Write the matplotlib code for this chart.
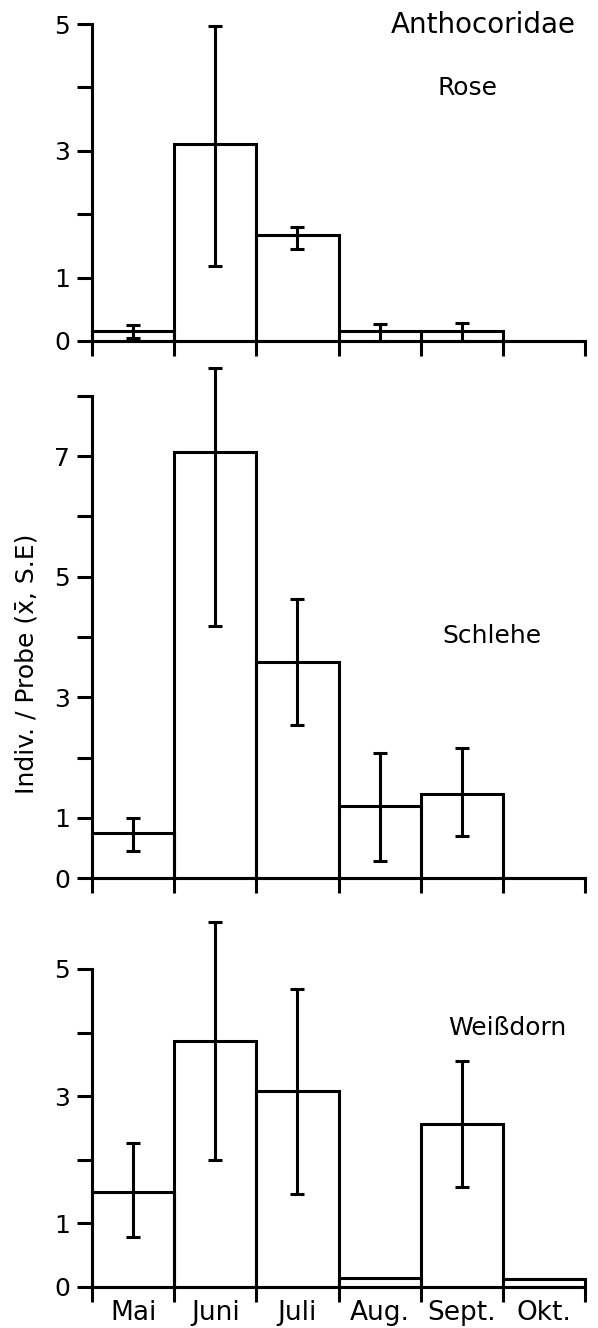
import numpy as np
import matplotlib
matplotlib.use("Agg")
import matplotlib.pyplot as plt

plt.rcParams['font.family'] = ['DejaVu Sans']

months = ['Mai', 'Juni', 'Juli', 'Aug.', 'Sept.', 'Okt.']

# Rose
rose_mean = [0.15, 3.10, 1.67, 0.15, 0.15, 0.0]
rose_low = [0.05, 1.18, 1.45, 0.0, 0.0, np.nan]
rose_high = [0.25, 4.97, 1.80, 0.27, 0.28, np.nan]

# Schlehe
schlehe_mean = [0.74, 7.07, 3.58, 1.19, 1.40, 0.0]
schlehe_low = [0.44, 4.18, 2.54, 0.29, 0.69, np.nan]
schlehe_high = [1.00, 8.47, 4.63, 2.08, 2.16, np.nan]

# Weissdorn
weiss_mean = [1.50, 3.87, 3.08, 0.14, 2.57, 0.13]
weiss_low = [0.79, 2.00, 1.47, np.nan, 1.58, np.nan]
weiss_high = [2.26, 5.74, 4.68, np.nan, 3.55, np.nan]

fig = plt.figure(figsize=(5.98, 13.28), dpi=100)

W = 598.0
H = 1328.0
left = 92 / W
width = (585 - 92) / W

def panel(y0px, ytop_px, ymax, mean, low, high, labels_shown, show_x):
    ax = fig.add_axes([left, 1 - y0px / H, width, (y0px - ytop_px) / H])
    x = np.arange(len(mean))
    ax.bar(x, mean, width=1.0, align='edge', fill=False,
           edgecolor='black', linewidth=2.2, clip_on=False)
    m = np.array(mean)
    lo = np.array(low)
    hi = np.array(high)
    ok = ~np.isnan(lo)
    ax.errorbar(x[ok] + 0.5, m[ok], yerr=[m[ok] - lo[ok], hi[ok] - m[ok]],
                fmt='none', ecolor='black', elinewidth=2.2, capsize=5,
                capthick=2.2, clip_on=False)
    ax.set_xlim(0, 6)
    ax.set_ylim(0, ymax)
    for s in ['top', 'right']:
        ax.spines[s].set_visible(False)
    for s in ['left', 'bottom']:
        ax.spines[s].set_linewidth(2.2)
    ax.set_yticks(range(0, ymax + 1))
    ax.set_yticklabels([str(v) if v in labels_shown else '' for v in range(0, ymax + 1)])
    ax.set_xticks(range(0, 7))
    ax.set_xticklabels([])
    ax.tick_params(axis='y', length=11, width=2.2, pad=5, labelsize=18)
    ax.tick_params(axis='x', length=11, width=2.2, direction='out')
    if show_x:
        ax.set_xticks(np.arange(6) + 0.5, minor=True)
        ax.set_xticklabels(months, minor=True)
        ax.tick_params(axis='x', which='minor', length=0, pad=9, labelsize=19)
    return ax

panel(341, 24, 5, rose_mean, rose_low, rose_high, [0, 1, 3, 5], False)
panel(878, 396, 8, schlehe_mean, schlehe_low, schlehe_high, [0, 1, 3, 5, 7], False)
panel(1287, 969, 5, weiss_mean, weiss_low, weiss_high, [0, 1, 3, 5], True)

fig.text(576 / W, 1 - 33 / H, 'Anthocoridae', ha='right', va='baseline', fontsize=20)
fig.text(467 / W, 1 - 95 / H, 'Rose', ha='center', va='baseline', fontsize=18)
fig.text(492 / W, 1 - 643 / H, 'Schlehe', ha='center', va='baseline', fontsize=18)
fig.text(507 / W, 1 - 1035 / H, 'Weißdorn', ha='center', va='baseline', fontsize=18)
fig.text(27 / W, 1 - 664 / H, 'Indiv. / Probe (x\u0304, S.E)', rotation=90,
         ha='center', va='center', fontsize=18)

fig.savefig('out.png', dpi=100)
